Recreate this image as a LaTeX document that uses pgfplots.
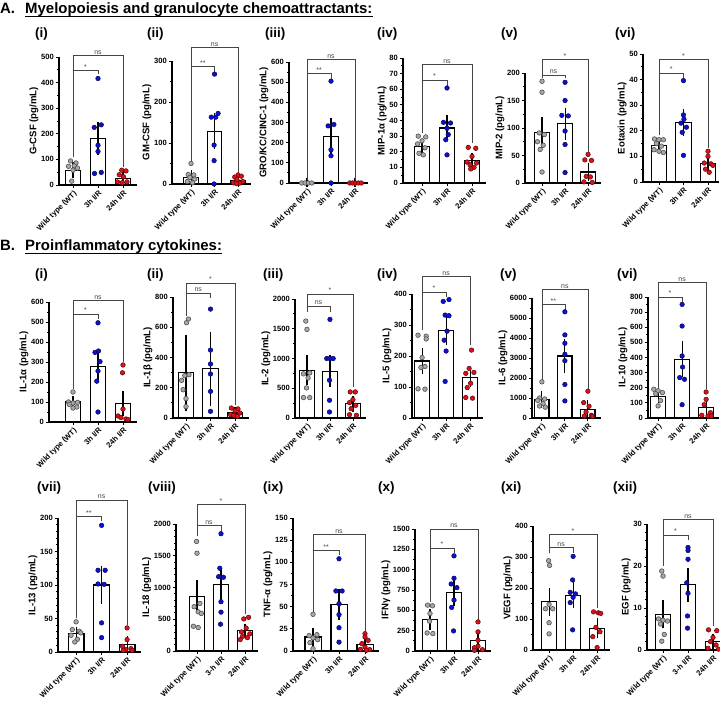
\documentclass[border=0pt]{standalone}
\usepackage{pgfplots}
\pgfplotsset{compat=1.18}
\usepackage{fontspec}
\setmainfont{Liberation Sans}

\definecolor{wtfill}{HTML}{A8A8A8}
\definecolor{wtedge}{HTML}{505050}
\definecolor{ihfill}{HTML}{0A10D8}
\definecolor{ihedge}{HTML}{0A0A50}
\definecolor{dhfill}{HTML}{E01018}
\definecolor{dhedge}{HTML}{500A0A}
\definecolor{brkcol}{HTML}{454545}

\newcommand{\tk}{\fontsize{7.6}{8.5}\selectfont\bfseries}
\newcommand{\lb}{\fontsize{9.6}{11}\selectfont\bfseries}
\newcommand{\xl}{\fontsize{7.6}{8.5}\selectfont\bfseries}
\newcommand{\pl}{\fontsize{13.5}{15}\selectfont\bfseries}
\newcommand{\st}{\fontsize{15}{17}\selectfont\bfseries}

% significance bracket: x1, x2, label x, line height, left leg end, right leg end, label
\newcommand{\brk}[7]{%
  \draw[brkcol, line width=0.7pt] (axis cs:#1,#5) -- (axis cs:#1,#4) -- (axis cs:#2,#4) -- (axis cs:#2,#6);
  \node[anchor=south, inner sep=1pt, text=brkcol, font=\fontsize{7}{8}\selectfont] at (axis cs:#3,#4) {#7};}

\pgfplotsset{
  cyto/.style={
    scale only axis, anchor=south west, clip=false,
    axis x line*=bottom, axis y line*=left,
    axis line style={line width=1.1pt},
    ymin=0, xmax=2.55,
    xtick={0,1,2},
    xticklabels={Wild type (WT),3h I/R,24h I/R},
    tick align=outside,
    major tick length=3.5bp, minor tick length=2bp,
    tick style={black, line width=0.9pt},
    minor y tick num=1,
    scaled y ticks=false,
    x tick label style={rotate=45, anchor=north east, font=\xl, inner sep=1pt},
    y tick label style={font=\tk, inner sep=1.5pt},
    ylabel style={font=\lb, inner sep=1pt},
    /pgf/number format/assume math mode=true,
    /pgf/number format/set thousands separator={},
  },
  bars/.style={ybar, bar width=0.62, bar shift=0pt, fill=white, draw=black, line width=1.1pt,
    error bars/.cd, y dir=both, y explicit,
    error bar style={line width=1.1pt, black},
    error mark options={line width=1.1pt, mark size=4.5bp, black}},
  wt/.style={only marks, mark=*, mark size=2.3bp, mark options={fill=wtfill, draw=wtedge, line width=0.6pt}},
  ih/.style={only marks, mark=*, mark size=2.3bp, mark options={fill=ihfill, draw=ihedge, line width=0.5pt}},
  dh/.style={only marks, mark=*, mark size=2.3bp, mark options={fill=dhfill, draw=dhedge, line width=0.5pt}},
}

\begin{document}
\begin{tikzpicture}[x=1bp, y=1bp]
\useasboundingbox (0,0) rectangle (720,701);

% ---------- section titles ----------
\node[anchor=base west, inner sep=0, font=\st] at (0,687) {A.};
\node[anchor=base west, inner sep=0, font=\st] (ta) at (25,687) {Myelopoiesis and granulocyte chemoattractants:};
\draw[line width=1.3pt] ([yshift=-2.8bp]ta.base west) -- ([yshift=-2.8bp]ta.base east);
\node[anchor=base west, inner sep=0, font=\st] at (0,450) {B.};
\node[anchor=base west, inner sep=0, font=\st] (tb) at (25,450) {Proinflammatory cytokines:};
\draw[line width=1.3pt] ([yshift=-2.8bp]tb.base west) -- ([yshift=-2.8bp]tb.base east);

% ---------- panel numbers ----------
\foreach \px/\lab in {35/(i),147/(ii),265/(iii),377/(iv),501/(v),615/(vi)}
  \node[anchor=base west, inner sep=0, font=\pl] at (\px,663) {\lab};
\foreach \px/\lab in {35/(i),147/(ii),263/(iii),377/(iv),500/(v),617/(vi)}
  \node[anchor=base west, inner sep=0, font=\pl] at (\px,422) {\lab};
\foreach \px/\lab in {37/(vii),148/(viii),263/(ix),378/(x),501/(xi),613/(xii)}
  \node[anchor=base west, inner sep=0, font=\pl] at (\px,209) {\lab};

% ================= A (i) G-CSF =================
\begin{axis}[cyto, at={(59bp,516bp)}, width=77.75bp, height=128bp, xmin=-0.56,
  ymax=500, ytick={0,100,...,500}, ylabel={G-CSF (pg/mL)}]
\addplot[bars] coordinates {(0,58) +- (0,14) (1,180) +- (0,47) (2,25) +- (0,8)};
\addplot[wt] coordinates {(-0.1,94) (0.12,86) (-0.18,73) (0.05,75) (0.18,66) (0.0,58) (-0.05,15)};
\addplot[ih] coordinates {(1.0,416) (0.85,225) (1.13,235) (1.0,155) (1.0,131) (0.86,45) (1.13,49)};
\addplot[dh] coordinates {(1.95,58) (2.12,55) (1.85,40) (2.02,32) (1.78,12) (1.97,9) (2.16,12)};
\brk{0}{2}{1}{506}{110}{71}{ns}
\brk{0}{1}{0.5}{448}{110}{432}{*}
\end{axis}

% ================= A (ii) GM-CSF =================
\begin{axis}[cyto, at={(172bp,517bp)}, width=79bp, height=123bp, xmin=-0.81,
  ymax=300, ytick={0,100,...,300}, ylabel={GM-CSF (pg/mL)}]
\addplot[bars] coordinates {(0,16) +- (0,6) (1,129) +- (0,33) (2,8) +- (0,3)};
\addplot[wt] coordinates {(0.0,50) (-0.12,23) (0.12,22) (-0.05,16) (0.16,12) (-0.16,6) (0.06,3)};
\addplot[ih] coordinates {(1.0,268) (0.86,163) (1.05,163) (1.15,172) (0.98,95) (0.98,57) (0.98,0)};
\addplot[dh] coordinates {(2.0,22) (1.86,17) (2.14,19) (1.95,11) (2.2,6) (1.8,3) (2.06,2) (1.93,1)};
\brk{0}{2}{1}{333}{56}{27}{ns}
\brk{0}{1}{0.5}{286}{56}{274}{**}
\end{axis}

% ================= A (iii) GRO/KC/CINC-1 =================
\begin{axis}[cyto, at={(289bp,518bp)}, width=79.2bp, height=121bp, xmin=-0.75,
  ymax=600, ytick={0,100,...,600}, ylabel={GRO/KC/CINC-1 (pg/mL)}]
\addplot[bars] coordinates {(0,0) +- (0,0) (1,230) +- (0,68) (2,0) +- (0,0)};
\addplot[wt] coordinates {(-0.22,0) (-0.08,0) (0.06,0) (0.2,0)};
\addplot[ih] coordinates {(1.0,505) (0.88,283) (1.12,290) (1.0,165) (1.0,135) (1.0,0)};
\addplot[dh] coordinates {(1.78,0) (1.9,0) (2.02,0) (2.14,0) (2.26,0)};
\brk{0}{2}{1}{612}{15}{15}{ns}
\brk{0}{1}{0.5}{543}{15}{518}{**}
\end{axis}

% ================= A (iv) MIP-1alpha =================
\begin{axis}[cyto, at={(403bp,518bp)}, width=82.75bp, height=125bp, xmin=-0.76,
  ymax=80, ytick={0,10,...,80}, ylabel={MIP-1α (pg/mL)}]
\addplot[bars] coordinates {(0,23.5) +- (0,1.8) (1,35.2) +- (0,5.3) (2,14.5) +- (0,1.8)};
\addplot[wt] coordinates {(-0.15,30) (0.15,29.5) (0.0,27) (-0.18,25) (0.12,22.5) (-0.12,19) (0.05,18)};
\addplot[ih] coordinates {(1.0,60.8) (0.86,38.8) (1.14,38.4) (1.0,35) (1.05,31) (0.95,27.7) (1.0,18)};
\addplot[dh] coordinates {(1.85,22.8) (2.15,22.2) (2.0,17) (1.8,13.4) (2.18,12.8) (1.92,11.7) (2.08,10) (1.95,9)};
\brk{0}{2}{1}{75.7}{32}{25.5}{ns}
\brk{0}{1}{0.5}{66}{32}{62.3}{*}
\end{axis}

% ================= A (v) MIP-2 =================
\begin{axis}[cyto, at={(525bp,518bp)}, width=75.7bp, height=110bp, xmin=-0.74,
  ymax=200, ytick={0,50,...,200}, ylabel={MIP-2 (pg/mL)}]
\addplot[bars] coordinates {(0,91.5) +- (0,20) (1,108) +- (0,21) (2,20) +- (0,9)};
\addplot[wt] coordinates {(0.0,185) (0.0,165) (-0.12,91) (0.1,88) (-0.2,75) (0.05,68.5) (-0.08,61) (0.0,20)};
\addplot[ih] coordinates {(1.0,183) (1.0,150) (0.86,123) (1.14,122) (1.0,94.5) (1.0,70) (1.0,19)};
\addplot[dh] coordinates {(2.0,52) (1.86,42) (2.15,41) (1.92,12) (2.1,11) (1.82,2) (2.18,1)};
\brk{0}{2}{1}{224}{196}{56}{*}
\brk{0}{1}{0.5}{196}{190}{190}{ns}
\end{axis}

% ================= A (vi) Eotaxin =================
\begin{axis}[cyto, at={(643bp,519bp)}, width=76bp, height=128bp, xmin=-0.65, xmax=2.45,
  ymax=50, ytick={0,10,...,50}, ylabel={Eotaxin (pg/mL)}]
\addplot[bars] coordinates {(0,14.2) +- (0,0.8) (1,23.2) +- (0,3.5) (2,7.1) +- (0,1.0)};
\addplot[wt] coordinates {(-0.18,16.8) (0.0,16.5) (0.18,16.5) (-0.1,15) (0.1,14) (-0.2,12.6) (0.0,12) (0.18,11.5)};
\addplot[ih] coordinates {(1.0,39.6) (1.0,26.2) (1.02,24.5) (0.9,23) (1.12,21.4) (0.95,19.4) (1.0,10.4)};
\addplot[dh] coordinates {(2.0,12) (2.0,10) (1.85,7.4) (2.12,7.1) (2.2,6.5) (1.9,5) (2.05,3.8)};
\brk{0}{2}{1}{47.9}{18.4}{13.2}{*}
\brk{0}{1}{0.5}{42.5}{18.4}{40.5}{*}
\end{axis}

% ================= B (i) IL-1alpha =================
\begin{axis}[cyto, at={(49bp,279bp)}, width=87.75bp, height=120bp, xmin=-0.96,
  ymax=600, ytick={0,100,...,600}, ylabel={IL-1α (pg/mL)}]
\addplot[bars] coordinates {(0,100) +- (0,8) (1,278) +- (0,62) (2,92) +- (0,40)};
\addplot[wt] coordinates {(0.0,150) (-0.18,100) (0.18,98) (0.0,95) (-0.15,88) (0.15,75) (0.0,70)};
\addplot[ih] coordinates {(1.0,496) (0.88,348) (1.02,355) (1.08,302) (1.0,255) (0.95,204) (1.0,50)};
\addplot[dh] coordinates {(2.0,285) (1.98,246) (2.0,65) (1.8,30) (1.92,22) (2.12,15) (2.2,12)};
\brk{0}{2}{1}{606}{165}{301}{ns}
\brk{0}{1}{0.5}{539}{165}{516}{*}
\end{axis}

% ================= B (ii) IL-1beta =================
\begin{axis}[cyto, at={(173bp,283bp)}, width=75.5bp, height=121bp, xmin=-0.53,
  ymax=800, ytick={0,200,...,800}, ylabel={IL-1β (pg/mL)}]
\addplot[bars] coordinates {(0,298) +- (0,224) (1,326) +- (0,215) (2,33) +- (0,8)};
\addplot[wt] coordinates {(0.1,654) (0.02,630) (0.12,286) (-0.05,280) (-0.18,249) (-0.12,187) (0.0,128) (0.0,75)};
\addplot[ih] coordinates {(1.0,720) (1.0,449) (1.0,357) (1.0,291) (1.0,176) (1.0,44)};
\addplot[dh] coordinates {(1.85,66) (2.12,60) (2.0,48) (2.2,33) (1.82,22) (1.95,18) (2.1,11)};
\brk{0}{2}{1}{892}{826}{88}{*}
\brk{0}{1}{0.5}{826}{672}{793}{ns}
\end{axis}

% ================= B (iii) IL-2 =================
\begin{axis}[cyto, at={(295bp,283bp)}, width=70.6bp, height=119bp, xmin=-0.52,
  ymax=2000, ytick={0,500,...,2000}, ylabel={IL-2 (pg/mL)}]
\addplot[bars] coordinates {(0,803) +- (0,180) (1,787) +- (0,190) (2,236) +- (0,55)};
\addplot[wt] coordinates {(-0.05,1629) (0.0,1489) (0.12,758) (-0.15,742) (0.05,674) (-0.02,506) (-0.15,343) (0.12,343)};
\addplot[ih] coordinates {(1.0,1657) (0.86,1000) (1.0,1000) (1.14,1000) (0.98,635) (0.98,298) (0.98,101)};
\addplot[dh] coordinates {(1.88,438) (2.1,438) (2.0,309) (1.85,258) (2.12,213) (1.92,157) (1.85,56) (2.15,45)};
\brk{0}{2}{1}{2084}{1882}{522}{*}
\brk{0}{1}{0.5}{1882}{1775}{1787}{ns}
\end{axis}

% ================= B (iv) IL-5 =================
\begin{axis}[cyto, at={(412bp,283bp)}, width=71.3bp, height=124bp, xmin=-0.42,
  ymax=400, ytick={0,100,...,400}, ylabel={IL-5 (pg/mL)}]
\addplot[bars] coordinates {(0,184) +- (0,27) (1,283) +- (0,33) (2,130) +- (0,17)};
\addplot[wt] coordinates {(-0.17,267) (0.17,264) (0.17,255) (0.0,195) (0.12,166) (-0.05,163) (-0.17,94) (0.12,93)};
\addplot[ih] coordinates {(0.88,376) (1.12,382) (0.96,332) (1.12,330) (1.04,280) (0.92,251) (1.0,216) (0.96,118)};
\addplot[dh] coordinates {(2.06,219) (1.96,160) (2.16,147) (1.82,144) (2.02,112) (1.88,98) (1.82,66) (2.1,64)};
\brk{0}{2}{1}{457}{285}{235}{ns}
\brk{0}{1}{0.5}{406}{285}{390}{*}
\end{axis}

% ================= B (v) IL-6 =================
\begin{axis}[cyto, at={(532bp,283bp)}, width=68.5bp, height=120bp, xmin=-0.43,
  ymax=6000, ytick={0,1000,...,6000}, ylabel={IL-6 (pg/mL)}]
\addplot[bars] coordinates {(0,921) +- (0,210) (1,3099) +- (0,620) (2,435) +- (0,230)};
\addplot[wt] coordinates {(0.0,1809) (-0.1,1000) (0.12,950) (-0.18,880) (0.05,720) (-0.1,600) (0.15,540)};
\addplot[ih] coordinates {(1.0,5310) (1.0,4154) (1.0,3735) (1.0,3183) (1.0,2864) (1.0,1675) (1.0,854)};
\addplot[dh] coordinates {(2.0,1340) (1.82,770) (2.05,586) (1.92,302) (2.15,134) (1.85,100) (2.2,84)};
\brk{0}{2}{1}{6415}{1893}{1474}{ns}
\brk{0}{1}{0.5}{5662}{1893}{5410}{**}
\end{axis}

% ================= B (vi) IL-10 =================
\begin{axis}[cyto, at={(648bp,283bp)}, width=71.3bp, height=121bp, xmin=-0.42,
  ymax=800, ytick={0,100,...,800}, ylabel={IL-10 (pg/mL)}]
\addplot[bars] coordinates {(0,145) +- (0,17) (1,388) +- (0,88) (2,70) +- (0,30)};
\addplot[wt] coordinates {(-0.18,190) (0.0,180) (0.18,168) (-0.1,160) (0.1,115) (0.0,80)};
\addplot[ih] coordinates {(1.0,751) (1.0,608) (1.0,410) (1.02,337) (0.9,267) (1.1,256) (1.0,88)};
\addplot[dh] coordinates {(2.0,172) (2.0,123) (1.92,88) (2.18,35) (1.82,18) (2.08,13) (2.22,13)};
\brk{0}{2}{1}{894}{198}{194}{ns}
\brk{0}{1}{0.5}{800}{198}{767}{*}
\end{axis}

% ================= B (vii) IL-13 =================
\begin{axis}[cyto, at={(58bp,49bp)}, width=83.1bp, height=134bp, xmin=-0.71,
  ymax=200, ytick={0,50,...,200}, minor y tick num=4, ylabel={IL-13 (pg/mL)}]
\addplot[bars] coordinates {(0,27.5) +- (0,3.5) (1,100) +- (0,21) (2,11.5) +- (0,5)};
\addplot[wt] coordinates {(0.0,45) (-0.15,33.5) (0.12,31) (0.18,28.5) (-0.2,25) (0.05,19) (-0.05,15)};
\addplot[ih] coordinates {(1.0,189) (0.86,122) (1.14,122) (0.86,101.5) (1.1,101) (1.0,43.5) (1.0,21.5)};
\addplot[dh] coordinates {(2.0,36) (2.0,18.5) (1.82,8.5) (2.15,5) (1.95,3.5) (2.2,2.5) (1.85,2.5)};
\brk{0}{2}{1}{226.5}{50}{40}{ns}
\brk{0}{1}{0.5}{202.5}{50}{195}{**}
\end{axis}

% ================= B (viii) IL-18 =================
\begin{axis}[cyto, at={(176bp,50bp)}, width=82.2bp, height=127bp, xmin=-0.875,
  xticklabels={Wild type (WT),3-h I/R,24h I/R},
  ymax=2000, ytick={0,500,...,2000}, minor y tick num=4, ylabel={IL-18 (pg/mL)}]
\addplot[bars] coordinates {(0,855) +- (0,185) (1,1050) +- (0,176) (2,317) +- (0,45)};
\addplot[wt] coordinates {(-0.02,1725) (0.0,1540) (0.12,749) (-0.12,697) (0.05,617) (0.18,591) (-0.15,390) (0.05,369)};
\addplot[ih] coordinates {(1.0,1847) (0.95,1303) (0.9,1171) (1.1,1161) (1.0,776) (1.0,612) (0.98,422)};
\addplot[dh] coordinates {(2.15,530) (1.95,505) (2.05,360) (1.85,300) (2.2,270) (1.9,230) (2.1,210) (1.8,180)};
\brk{0}{2}{1}{2306}{1805}{590}{*}
\brk{0}{1}{0.5}{1973}{1805}{1884}{ns}
\end{axis}

% ================= B (ix) TNF-alpha =================
\begin{axis}[cyto, at={(293bp,50bp)}, width=86.3bp, height=133bp, xmin=-0.77,
  ymax=150, ytick={0,25,...,150}, ylabel={TNF-α (pg/mL)}]
\addplot[bars] coordinates {(0,15.8) +- (0,5) (1,52.3) +- (0,12) (2,7.5) +- (0,2.5)};
\addplot[wt] coordinates {(0.0,41.4) (0.15,18.4) (-0.15,17.3) (0.0,14.7) (0.18,12.8) (-0.12,9.4) (0.0,2.6)};
\addplot[ih] coordinates {(1.0,104) (0.88,67.7) (1.12,67.7) (1.0,53.4) (1.0,41) (1.0,26.3) (1.0,10)};
\addplot[dh] coordinates {(2.0,19.5) (2.0,15.8) (2.12,12) (1.88,8.3) (2.0,4.5) (1.82,1.9) (2.18,1.5) (2.05,0.8)};
\brk{0}{2}{1}{131.6}{44}{23}{ns}
\brk{0}{1}{0.5}{113.5}{44}{108}{**}
\end{axis}

% ================= B (x) IFN-gamma =================
\begin{axis}[cyto, at={(415bp,50bp)}, width=76.2bp, height=122bp, xmin=-0.625,
  ymax=1500, ytick={0,250,...,1500}, ylabel={IFNγ (pg/mL)}]
\addplot[bars] coordinates {(0,387) +- (0,70) (1,721) +- (0,113) (2,124) +- (0,60)};
\addplot[wt] coordinates {(-0.1,564) (0.1,556) (0.0,461) (-0.02,367) (-0.12,222) (0.12,214)};
\addplot[ih] coordinates {(1.0,1170) (1.0,894) (0.88,824) (1.12,779) (1.0,626) (0.9,536) (0.98,247)};
\addplot[dh] coordinates {(2.0,358) (2.0,235) (2.0,132) (2.0,58) (1.85,41) (2.18,16) (1.85,8)};
\brk{0}{2}{1}{1500}{606}{379}{ns}
\brk{0}{1}{0.5}{1265}{606}{1203}{*}
\end{axis}

% ================= B (xi) VEGF =================
\begin{axis}[cyto, at={(533bp,51bp)}, width=77.3bp, height=124bp, xmin=-0.67,
  ymax=400, ytick={0,100,...,400}, ylabel={VEGF (pg/mL)}]
\addplot[bars] coordinates {(0,155) +- (0,30) (1,177) +- (0,27) (2,70) +- (0,18)};
\addplot[wt] coordinates {(-0.02,288) (0.02,273) (0.0,147) (-0.15,133) (0.15,133) (0.0,88) (0.0,52)};
\addplot[ih] coordinates {(1.0,302) (0.98,226) (0.88,186) (1.1,181) (1.0,170) (0.88,153) (0.98,65)};
\addplot[dh] coordinates {(1.85,123) (2.05,120) (2.15,118) (1.95,73) (2.12,59) (1.82,43) (2.0,8)};
\brk{0}{2}{1}{373}{312}{134}{*}
\brk{0}{1}{0.5}{330}{312}{314}{ns}
\end{axis}

% ================= B (xii) EGF =================
\begin{axis}[cyto, at={(647bp,51bp)}, width=73.5bp, height=126bp, xmin=-0.64, xmax=2.3,
  xticklabels={Wild type (WT),3-h I/R,24h I/R},
  ymax=30, ytick={0,10,...,30}, minor y tick num=4, ylabel={EGF (pg/mL)}]
\addplot[bars] coordinates {(0,8.5) +- (0,2.3) (1,15.5) +- (0,2.9) (2,2.0) +- (0,0.8)};
\addplot[wt] coordinates {(-0.05,18.8) (0.0,17.6) (-0.18,7.4) (0.0,7.1) (0.18,6.9) (-0.1,6.2) (0.05,3.7) (-0.05,2.1)};
\addplot[ih] coordinates {(1.0,24.4) (1.0,23.7) (1.0,21.6) (0.95,16) (1.0,13.5) (0.98,8.1) (0.98,5.2)};
\addplot[dh] coordinates {(1.82,4.8) (2.15,4.6) (2.0,3.0) (1.9,2.0) (2.12,1.2) (1.8,0.4) (2.22,0.2)};
\brk{0}{2}{1}{31}{20}{5.6}{ns}
\brk{0}{1}{0.5}{27.4}{20}{26.2}{*}
\end{axis}

\end{tikzpicture}
\end{document}
